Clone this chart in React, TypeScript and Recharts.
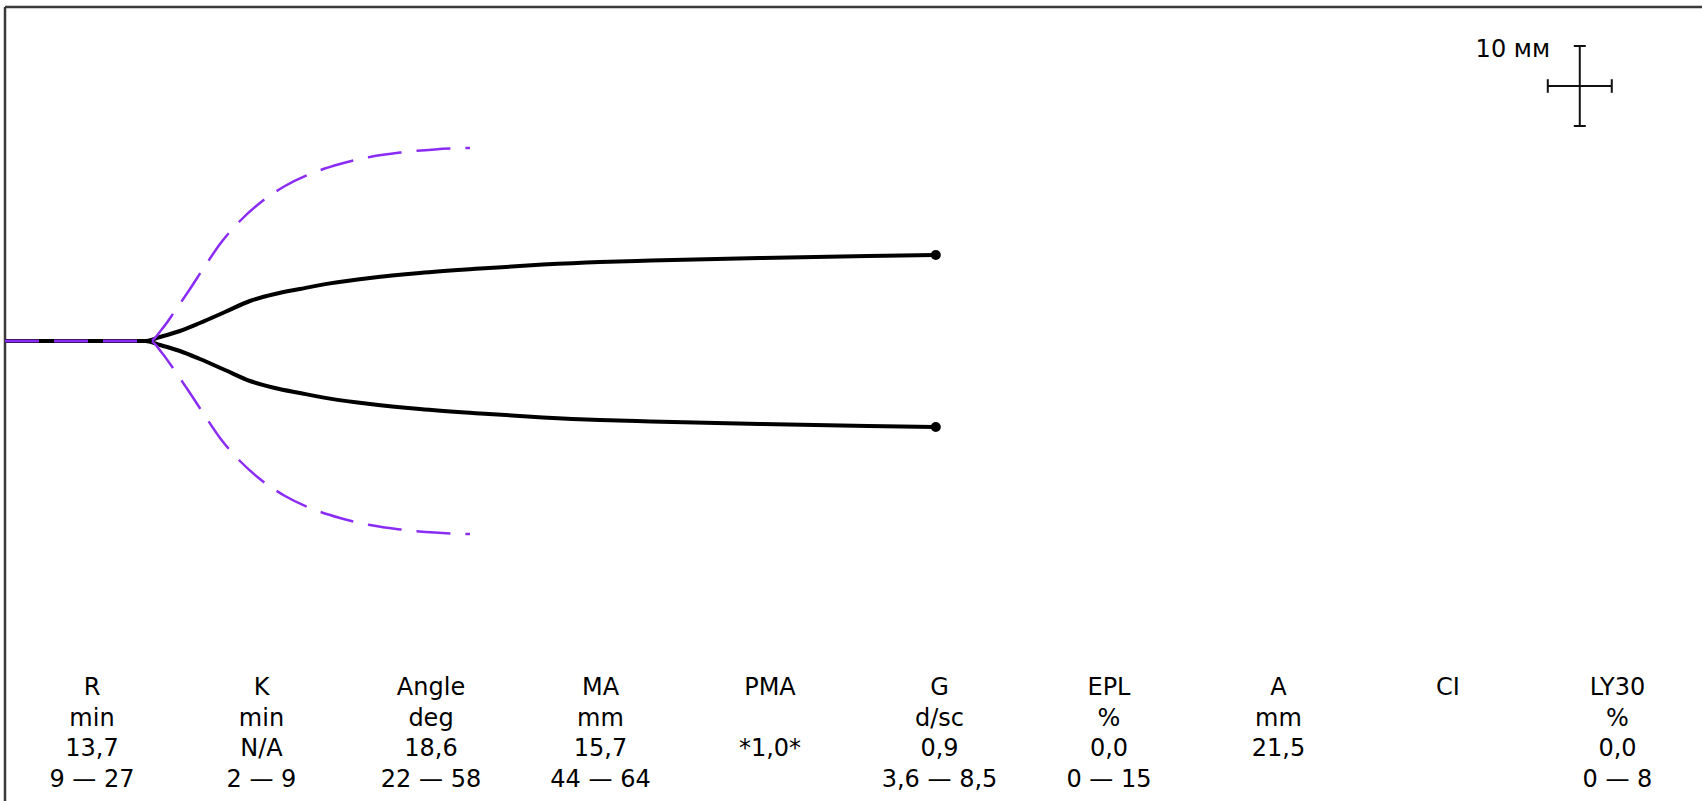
import React from 'react';
import { ComposedChart, Line, XAxis, YAxis, ReferenceLine } from 'recharts';

// Black TEG trace: time (min) and amplitude A (mm)
const traceTime = [0, 10.94, 12.11, 13.67, 15.23, 17.19, 19.14, 21.09, 23.05, 25.39, 28.52, 32.42, 37.11, 42.03, 46.48, 50.47, 58.98, 67.42, 72.73];
const traceAmplitude = [0, 0, 1.0, 2.5, 4.5, 7.25, 10.0, 11.75, 13.0, 14.4, 15.75, 17.0, 18.1, 19.1, 19.75, 20.1, 20.75, 21.25, 21.5];

// Purple dashed reference (normal) envelope: time (min) and amplitude (mm)
const refTime = [0, 11.33, 12.27, 13.28, 14.45, 15.63, 16.8, 18.36, 19.92, 21.88, 23.83, 26.17, 28.52, 30.86, 33.59, 36.33];
const refAmplitude = [0, 0, 3.0, 7.5, 13.0, 18.75, 24.25, 30.0, 34.5, 38.75, 41.75, 44.25, 46.0, 47.1, 47.9, 48.25];

// Parameter table
const paramNames = ['R', 'K', 'Angle', 'MA', 'PMA', 'G', 'EPL', 'A', 'CI', 'LY30'];
const paramUnits = ['min', 'min', 'deg', 'mm', '', 'd/sc', '%', 'mm', '', '%'];
const paramValues = ['13,7', 'N/A', '18,6', '15,7', '*1,0*', '0,9', '0,0', '21,5', '', '0,0'];
const paramRanges = ['9 — 27', '2 — 9', '22 — 58', '44 — 64', '', '3,6 — 8,5', '0 — 15', '', '', '0 — 8'];

// Scale marker: 10 mm vertical, 5 min (10 mm) horizontal
const scaleLabel = '10 мм';
const scaleCenter = { t: 123.05, a: 31.875 };
const scaleHalfTime = 2.5;
const scaleHalfAmp = 5;

const X_DOMAIN: [number, number] = [0, 132.6];
const Y_DOMAIN: [number, number] = [-57.5, 41.75];

const upper = traceTime.map((t, i) => ({ t, v: traceAmplitude[i] / 2 }));
const lower = traceTime.map((t, i) => ({ t, v: -traceAmplitude[i] / 2 }));
const refUpper = refTime.map((t, i) => ({ t, v: refAmplitude[i] / 2 }));
const refLower = refTime.map((t, i) => ({ t, v: -refAmplitude[i] / 2 }));

const FONT = "'DejaVu Sans', sans-serif";

const endDot = (n: number) => (props: any) => {
  const { cx, cy, index } = props;
  if (index !== n - 1) return <g key={`d${index}`} />;
  return <circle key={`d${index}`} cx={cx} cy={cy} r={5} fill="#000" stroke="none" />;
};

const PURPLE = '#8b2cf5';
const BORDER = '#3a3a3a';

export default function App() {
  const capT = 0.47;
  const capA = 0.85;
  const sc = scaleCenter;
  return (
    <div style={{ position: 'absolute', left: 0, top: 0, width: 1702, height: 801, background: '#fff', overflow: 'hidden' }}>
      <ComposedChart width={1702} height={801} margin={{ top: 7, right: 0, bottom: 0, left: 5 }}>
        <XAxis type="number" dataKey="t" domain={X_DOMAIN} orientation="top" height={0} tick={false} tickLine={false}
          axisLine={false} allowDataOverflow />
        <YAxis type="number" dataKey="v" domain={Y_DOMAIN} width={0} tick={false} tickLine={false}
          axisLine={false} allowDataOverflow />
        <ReferenceLine ifOverflow="visible" stroke={BORDER} strokeWidth={2.5}
          segment={[{ x: X_DOMAIN[0], y: Y_DOMAIN[1] }, { x: X_DOMAIN[1], y: Y_DOMAIN[1] }]} />
        <ReferenceLine ifOverflow="visible" stroke={BORDER} strokeWidth={2.5}
          segment={[{ x: X_DOMAIN[0], y: Y_DOMAIN[0] }, { x: X_DOMAIN[0], y: Y_DOMAIN[1] }]} />
        <Line data={upper} dataKey="v" type="monotone" stroke="#000" strokeWidth={4} dot={endDot(upper.length)} activeDot={false} isAnimationActive={false} />
        <Line data={lower} dataKey="v" type="monotone" stroke="#000" strokeWidth={4} dot={endDot(lower.length)} activeDot={false} isAnimationActive={false} />
        <Line data={refUpper} dataKey="v" type="monotone" stroke={PURPLE} strokeWidth={2.5} strokeDasharray="34 15" dot={false} activeDot={false} isAnimationActive={false} />
        <Line data={refLower} dataKey="v" type="monotone" stroke={PURPLE} strokeWidth={2.5} strokeDasharray="34 15" dot={false} activeDot={false} isAnimationActive={false} />
        <ReferenceLine ifOverflow="visible" stroke="#111" strokeWidth={2}
          segment={[{ x: sc.t, y: sc.a - scaleHalfAmp }, { x: sc.t, y: sc.a + scaleHalfAmp }]} />
        <ReferenceLine ifOverflow="visible" stroke="#111" strokeWidth={2}
          segment={[{ x: sc.t - scaleHalfTime, y: sc.a }, { x: sc.t + scaleHalfTime, y: sc.a }]} />
        <ReferenceLine ifOverflow="visible" stroke="#111" strokeWidth={2}
          segment={[{ x: sc.t - capT, y: sc.a + scaleHalfAmp }, { x: sc.t + capT, y: sc.a + scaleHalfAmp }]} />
        <ReferenceLine ifOverflow="visible" stroke="#111" strokeWidth={2}
          segment={[{ x: sc.t - capT, y: sc.a - scaleHalfAmp }, { x: sc.t + capT, y: sc.a - scaleHalfAmp }]} />
        <ReferenceLine ifOverflow="visible" stroke="#111" strokeWidth={2}
          segment={[{ x: sc.t - scaleHalfTime, y: sc.a - capA }, { x: sc.t - scaleHalfTime, y: sc.a + capA }]} />
        <ReferenceLine ifOverflow="visible" stroke="#111" strokeWidth={2}
          segment={[{ x: sc.t + scaleHalfTime, y: sc.a - capA }, { x: sc.t + scaleHalfTime, y: sc.a + capA }]} />
      </ComposedChart>
      <div style={{ position: 'absolute', left: 1400, top: 34, width: 150, textAlign: 'right', fontFamily: FONT, fontSize: 24, lineHeight: '30px', color: '#000' }}>
        {scaleLabel}
      </div>
      {paramNames.map((name, i) => (
        <div key={name} style={{ position: 'absolute', left: 92 + 169.5 * i - 90, top: 672, width: 180, textAlign: 'center', fontFamily: FONT, fontSize: 24, lineHeight: '30.5px', color: '#000', whiteSpace: 'pre' }}>
          <div>{name}</div>
          <div>{paramUnits[i] || '\u00a0'}</div>
          <div>{paramValues[i] || '\u00a0'}</div>
          <div>{paramRanges[i] || '\u00a0'}</div>
        </div>
      ))}
    </div>
  );
}
